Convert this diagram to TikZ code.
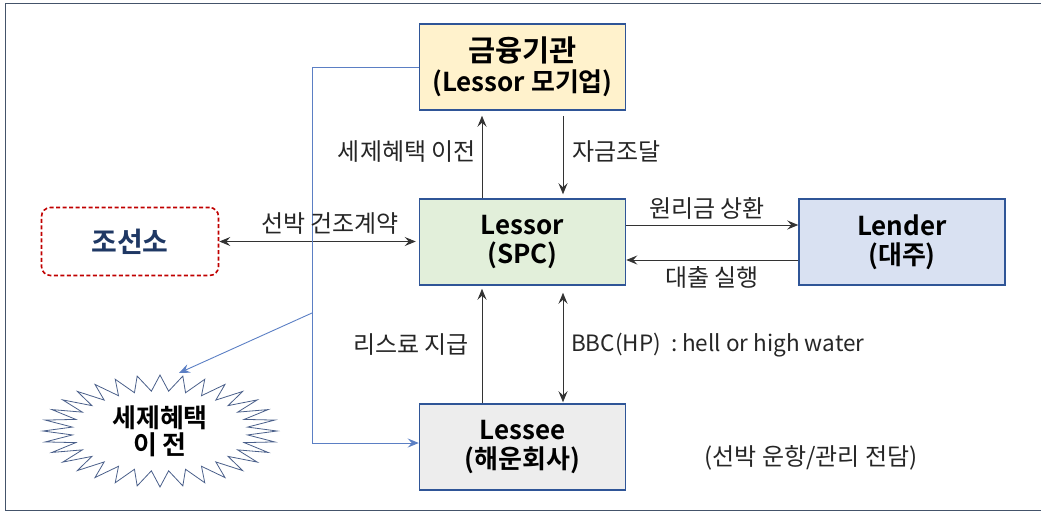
\documentclass[tikz,border=0pt]{standalone}
\usepackage{fontspec}
\setmainfont{Noto Sans CJK KR}[BoldFont={Noto Sans CJK KR Bold}]
\usetikzlibrary{arrows.meta}

\definecolor{edgeblue}{HTML}{2F5597}
\definecolor{framegrey}{HTML}{44546A}
\definecolor{finfill}{HTML}{FFF2CC}
\definecolor{spcfill}{HTML}{E2EFDA}
\definecolor{lendfill}{HTML}{D9E1F2}
\definecolor{leasefill}{HTML}{EDEDED}
\definecolor{yardred}{HTML}{C00000}
\definecolor{navy}{HTML}{1F3864}
\definecolor{linkblue}{HTML}{5B7FC4}
\definecolor{conngrey}{HTML}{333333}
\definecolor{burstedge}{HTML}{4A5F8A}

\tikzset{
  box/.style={draw=edgeblue, line width=1.5pt, minimum width=206pt,
    minimum height=86pt, align=center, inner sep=0pt, font=\bfseries\fontsize{26}{29}\selectfont},
  lbl/.style={inner sep=0pt, font=\fontsize{24}{28}\selectfont, text=black!85},
  conn/.style={draw=conngrey, line width=0.9pt},
  tip/.style={-{Stealth[length=11pt,width=9pt,inset=4pt]}},
  twotip/.style={{Stealth[length=11pt,width=9pt,inset=4pt]}-{Stealth[length=11pt,width=9pt,inset=4pt]}},
  link/.style={draw=linkblue, line width=0.9pt},
}

\begin{document}
\begin{tikzpicture}[x=1pt,y=-1pt]
\useasboundingbox (0,0) rectangle (1041,512);

% outer frame
\draw[framegrey, line width=1pt] (1041,3) -- (5,3) -- (5,510) -- (1041,510);

% main boxes
\node[box, fill=finfill] (fin) at (522.5,67)
  {{\fontsize{29.5}{32}\selectfont 금융기관}\\[1pt](Lessor 모기업)};
\node[box, fill=spcfill] (spc) at (522.5,242) {Lessor\\(SPC)};
\node[box, fill=lendfill] (lender) at (902,242) {Lender\\(대주)};
\node[box, fill=leasefill] (lessee) at (522.5,447) {Lessee\\(해운회사)};
\node[draw=yardred, dash pattern=on 4pt off 2.5pt, line width=1.6pt, rounded corners=9pt,
  minimum width=177pt, minimum height=68pt, text=navy,
  font=\bfseries\fontsize{28}{32}\selectfont] (yard) at (130,241.5) {조선소};

% tax-benefit burst: 32 spikes on an ellipse
\draw[burstedge, line width=0.8pt] (277,431)
  \foreach \i in {0,...,31} {
    -- ({160+88*cos(\i*11.25+5.625)}, {431+40*sin(\i*11.25+5.625)})
    -- ({160+117*cos((\i+1)*11.25)}, {431+56*sin((\i+1)*11.25)})
  } -- cycle;
\node[align=center, inner sep=0pt, font=\bfseries\fontsize{26}{27}\selectfont]
  (burst) at (160,431) {세제혜택\\이 전};

% connectors between the boxes
\draw[conn, tip, shorten >=5pt] ([xshift=-40.5pt]spc.north) -- ([xshift=-40.5pt]fin.south);
\draw[conn, tip, shorten <=5pt, shorten >=4pt] ([xshift=40.5pt]fin.south) -- ([xshift=40.5pt]spc.north);
\draw[conn, twotip, shorten >=3pt] (yard.east) -- (yard.east -| spc.west);
\draw[conn, tip] ([yshift=17pt]spc.east) -- ([yshift=17pt]spc.east -| lender.west);
\draw[conn, tip] ([yshift=-18pt]lender.west) -- ([yshift=-18pt]lender.west -| spc.east);
\draw[conn, tip, shorten >=3pt] ([xshift=-40.5pt]lessee.north) -- ([xshift=-40.5pt]spc.south);
\draw[conn, twotip, shorten <=7pt, shorten >=1pt] ([xshift=40.5pt]spc.south) -- ([xshift=40.5pt]lessee.north);

% tax-benefit transfer line
\coordinate (corner) at (312,443);
\coordinate (split) at (312,313);
\coordinate (burstin) at (179,373);
\draw[link, tip] (fin.west) -| (corner) -- (corner -| lessee.west);
\draw[link, tip] (split) -- (burstin);

% connector labels
\node[lbl, anchor=east] (ltax) at (476,152) {세제혜택 이전};
\node[lbl, anchor=west] (lfund) at (572,152) {자금조달};
\node[lbl] (lbuild) at (330,224) {선박 건조계약};
\node[lbl] (lrepay) at (707,208) {원리금 상환};
\node[lbl] (lloan) at (712,277) {대출 실행};
\node[lbl, anchor=east] (lrent) at (469,345) {리스료 지급};
\node[lbl, anchor=west, font=\fontsize{22.5}{26}\selectfont] (lbbc) at (571,345) {BBC(HP)\ \ : hell or high water};
\node[lbl] (lops) at (811,458) {(선박 운항/관리 전담)};
\end{tikzpicture}
\end{document}
